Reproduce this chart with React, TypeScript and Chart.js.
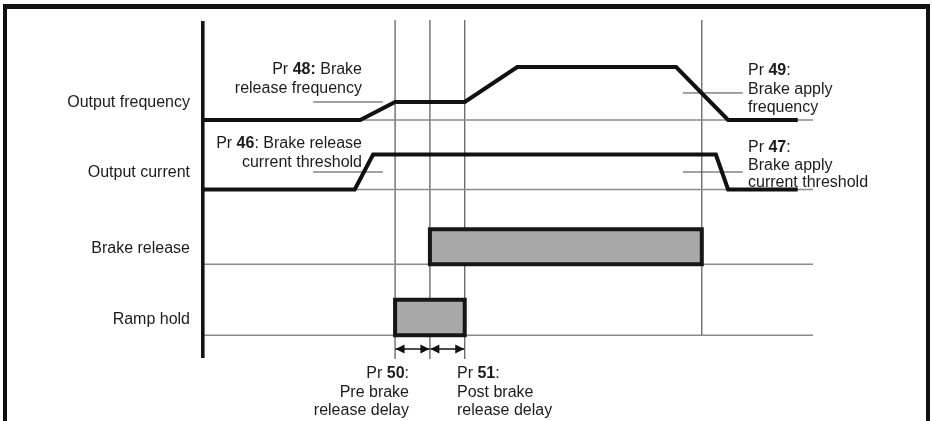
import React, { useEffect, useRef } from 'react';
import { Chart, registerables } from 'chart.js';

Chart.register(...registerables);

// ---- Data (time axis in arbitrary units 0..100, levels normalised 0..1) ----
const signalNames = ['Output frequency', 'Output current', 'Brake release', 'Ramp hold'];
// t1: ramp hold on, t2: brake released, t3: ramp hold off, t4: brake applied
const eventTimes = [31.6, 37.3, 43.0, 81.8];
const freqTimes = [0, 25.9, 31.6, 43.0, 51.6, 77.6, 86.1, 97.5];
const freqLevels = [0, 0, 0.34, 0.34, 1, 1, 0, 0];
const currentTimes = [0, 25.0, 28.0, 84.1, 86.1, 97.5];
const currentLevels = [0, 0, 1, 1, 0, 0];
const brakeReleaseWindow = [37.3, 81.8];
const rampHoldWindow = [31.6, 43.0];
const releaseFreqLevel = 0.34;
const applyFreqLevel = 0.51;
const currentThresholdLevel = 0.5;
const leaderLeftTimes = [18.2, 29.6];
const leaderRightTimes = [78.7, 88.5];

// annotation texts: each line is a list of [text, bold]
type Seg = [string, boolean];
const pr48Text: Seg[][] = [[['Pr ', false], ['48:', true], [' Brake', false]], [['release frequency', false]]];
const pr46Text: Seg[][] = [[['Pr ', false], ['46', true], [': Brake release', false]], [['current threshold', false]]];
const pr49Text: Seg[][] = [[['Pr ', false], ['49', true], [':', false]], [['Brake apply', false]], [['frequency', false]]];
const pr47Text: Seg[][] = [[['Pr ', false], ['47', true], [':', false]], [['Brake apply', false]], [['current threshold', false]]];
const pr50Text: Seg[][] = [[['Pr ', false], ['50', true], [':', false]], [['Pre brake', false]], [['release delay', false]]];
const pr51Text: Seg[][] = [[['Pr ', false], ['51', true], [':', false]], [['Post brake', false]], [['release delay', false]]];

// ---- Layout (y units) ----
const rowBase = [238, 168.5, 93.7, 22.7];
const rowAmp = [53, 35, 35, 35.5];

const FONT = '"Liberation Sans", Arial, Helvetica, sans-serif';
const TEXT_COLOR = '#1c1c1c';

function drawRich(ctx: CanvasRenderingContext2D, lines: Seg[][], x: number, y0: number, lh: number, align: 'left' | 'right') {
  lines.forEach((line, li) => {
    const y = y0 + li * lh;
    const widths = line.map(([t, b]) => {
      ctx.font = `${b ? 'bold ' : ''}16px ${FONT}`;
      return ctx.measureText(t).width;
    });
    const total = widths.reduce((a, b) => a + b, 0);
    let cx = align === 'left' ? x : x - total;
    line.forEach(([t, b], i) => {
      ctx.font = `${b ? 'bold ' : ''}16px ${FONT}`;
      ctx.textAlign = 'left';
      ctx.textBaseline = 'alphabetic';
      ctx.fillStyle = TEXT_COLOR;
      ctx.fillText(t, cx, y);
      cx += widths[i];
    });
  });
}

const diagramPlugin = {
  id: 'diagram',
  beforeDatasetsDraw(chart: any) {
    const ctx: CanvasRenderingContext2D = chart.ctx;
    ctx.save();
    ctx.fillStyle = '#111';
    ctx.fillRect(3, 4, 927, 5);
    ctx.fillRect(3, 4, 4, 417);
    ctx.fillRect(926, 4, 4, 417);
    ctx.restore();
  },
  afterDatasetsDraw(chart: any) {
    const ctx: CanvasRenderingContext2D = chart.ctx;
    const { left, top, bottom } = chart.chartArea;
    const xs = chart.scales.x;
    const ys = chart.scales.y;
    ctx.save();
    // main vertical axis
    ctx.fillStyle = '#141414';
    ctx.fillRect(left - 1, top, 3.6, bottom - top);

    // double-headed arrows between events 1-2 and 2-3
    const ay = ys.getPixelForValue(9);
    const arrow = (xa: number, xb: number) => {
      ctx.strokeStyle = '#111';
      ctx.lineWidth = 1.3;
      ctx.beginPath();
      ctx.moveTo(xa, ay);
      ctx.lineTo(xb, ay);
      ctx.stroke();
      ctx.fillStyle = '#111';
      const hl = 9, hw = 4.5;
      ctx.beginPath();
      ctx.moveTo(xa, ay); ctx.lineTo(xa + hl, ay - hw); ctx.lineTo(xa + hl, ay + hw); ctx.closePath(); ctx.fill();
      ctx.beginPath();
      ctx.moveTo(xb, ay); ctx.lineTo(xb - hl, ay - hw); ctx.lineTo(xb - hl, ay + hw); ctx.closePath(); ctx.fill();
    };
    const p1 = xs.getPixelForValue(eventTimes[0]);
    const p2 = xs.getPixelForValue(eventTimes[1]);
    const p3 = xs.getPixelForValue(eventTimes[2]);
    arrow(p1 + 0.5, p2 - 0.5);
    arrow(p2 + 0.5, p3 - 0.5);

    // row labels
    ctx.font = `16px ${FONT}`;
    ctx.fillStyle = TEXT_COLOR;
    ctx.textAlign = 'right';
    ctx.textBaseline = 'alphabetic';
    const labelOffsets = [-13, -12.5, -11, -11.7];
    signalNames.forEach((n, i) => {
      ctx.fillText(n, left - 12, ys.getPixelForValue(rowBase[i]) + labelOffsets[i]);
    });

    // annotations
    drawRich(ctx, pr48Text, 362, 74, 19, 'right');
    drawRich(ctx, pr46Text, 362, 148, 19, 'right');
    drawRich(ctx, pr49Text, 748, 75, 18.5, 'left');
    drawRich(ctx, pr47Text, 748, 152, 17.5, 'left');
    drawRich(ctx, pr50Text, 409, 378, 18.5, 'right');
    drawRich(ctx, pr51Text, 457, 378, 18.5, 'left');
    ctx.restore();
  },
};

function trace(ts: number[], ls: number[], row: number) {
  return ts.map((t, i) => ({ x: t, y: rowBase[row] + ls[i] * rowAmp[row] }));
}
function box(w: number[], row: number) {
  const b = rowBase[row];
  const t = b + rowAmp[row];
  return [
    { x: w[0], y: b },
    { x: w[0], y: t },
    { x: w[1], y: t },
    { x: w[1], y: b },
    { x: w[0], y: b },
  ];
}
function hline(t0: number, t1: number, y: number) {
  return [{ x: t0, y }, { x: t1, y }];
}

export default function App() {
  const ref = useRef<HTMLCanvasElement | null>(null);
  useEffect(() => {
    if (!ref.current) return;
    const common = { pointRadius: 0, tension: 0, clip: false as any, fill: false };
    const traceStyle = { ...common, borderColor: '#111', borderWidth: 4, borderJoinStyle: 'miter' as const };
    const boxStyle = {
      ...common,
      borderColor: '#161616',
      borderWidth: 4,
      backgroundColor: '#a9a9a9',
      borderJoinStyle: 'miter' as const,
      borderCapStyle: 'square' as const,
      fill: 'shape',
    };
    const thinGray = { ...common, borderColor: '#8a8a8a', borderWidth: 1.5 };
    const leader = { ...common, borderColor: '#444', borderWidth: 1 };
    const marker = { ...common, borderColor: '#555', borderWidth: 1.2 };

    const datasets: any[] = [
      { ...traceStyle, label: signalNames[0], data: trace(freqTimes, freqLevels, 0) },
      { ...traceStyle, label: signalNames[1], data: trace(currentTimes, currentLevels, 1) },
      { ...boxStyle, label: signalNames[2], data: box(brakeReleaseWindow, 2) },
      { ...boxStyle, label: signalNames[3], data: box(rampHoldWindow, 3) },
      // baselines
      ...rowBase.map((b, i) => ({ ...thinGray, label: 'base' + i, data: hline(0, 100, b) })),
      // leader lines
      { ...leader, label: 'Pr48', data: hline(leaderLeftTimes[0], leaderLeftTimes[1], rowBase[0] + releaseFreqLevel * rowAmp[0]) },
      { ...leader, label: 'Pr46', data: hline(leaderLeftTimes[0], leaderLeftTimes[1], rowBase[1] + currentThresholdLevel * rowAmp[1]) },
      { ...leader, label: 'Pr49', data: hline(leaderRightTimes[0], leaderRightTimes[1], rowBase[0] + applyFreqLevel * rowAmp[0]) },
      { ...leader, label: 'Pr47', data: hline(leaderRightTimes[0], leaderRightTimes[1], rowBase[1] + currentThresholdLevel * rowAmp[1]) },
      // event markers
      ...eventTimes.map((t, i) => ({
        ...marker,
        label: 'event' + i,
        data: [{ x: t, y: i === 3 ? rowBase[3] : -1 }, { x: t, y: 338 }],
      })),
    ];

    const chart = new Chart(ref.current, {
      type: 'line',
      data: { datasets },
      options: {
        animation: false,
        responsive: false,
        devicePixelRatio: 1,
        events: [],
        layout: { padding: { left: 202, right: 119, top: 21, bottom: 63 } },
        scales: {
          x: { type: 'linear', min: 0, max: 100, display: false },
          y: { type: 'linear', min: 0, max: 337, display: false },
        },
        plugins: { legend: { display: false }, tooltip: { enabled: false } },
      },
      plugins: [diagramPlugin],
    });
    return () => chart.destroy();
  }, []);

  return (
    <div style={{ position: 'absolute', left: 0, top: 0, width: 932, height: 421, background: '#fff' }}>
      <canvas ref={ref} width={932} height={421} style={{ width: 932, height: 421, display: 'block' }} />
    </div>
  );
}
